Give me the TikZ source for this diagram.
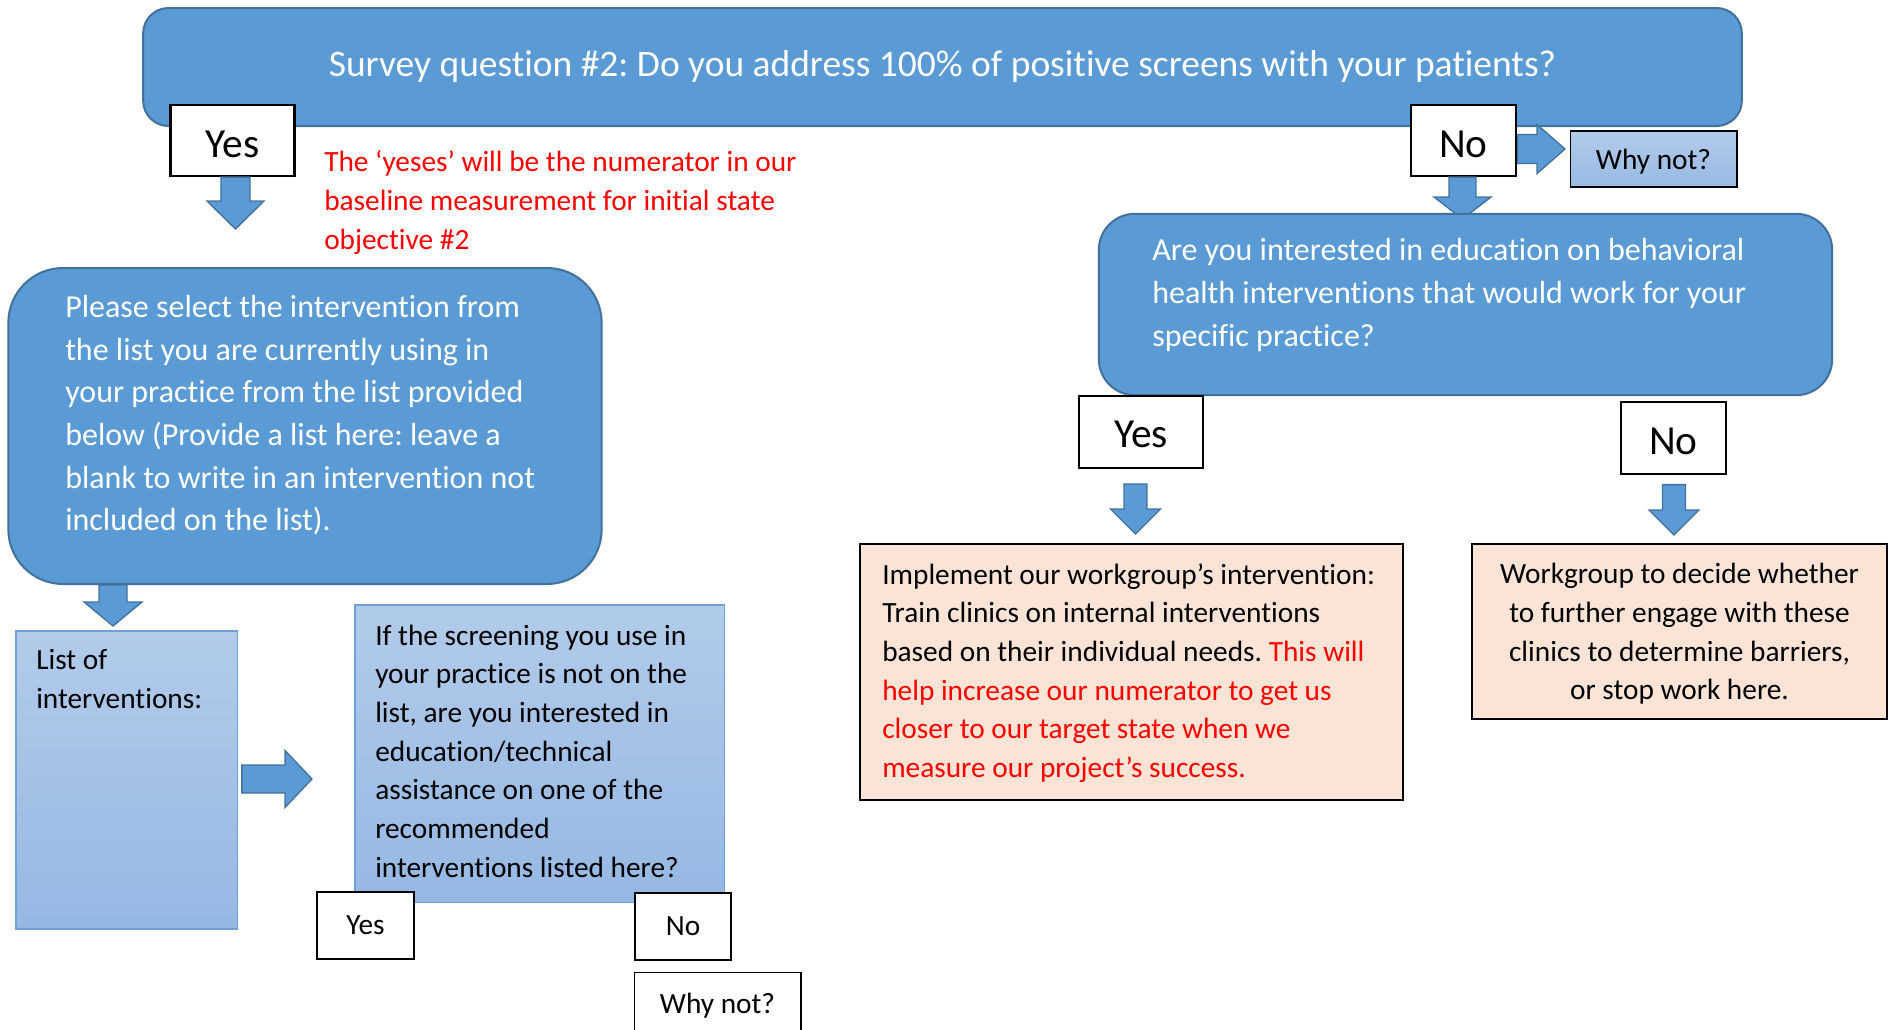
\documentclass[tikz,border=0pt]{standalone}
\usepackage{fontspec}
\setmainfont{Carlito}[Ligatures=NoCommon]
\usetikzlibrary{calc}
\frenchspacing

\definecolor{boxblue}{HTML}{5B9BD5}
\definecolor{boxedge}{HTML}{41719C}
\definecolor{paletop}{HTML}{B2CBEA}
\definecolor{palebot}{HTML}{95B8E3}
\definecolor{paleedge}{HTML}{6FA0DC}
\definecolor{peach}{HTML}{FBE4D5}
\definecolor{notered}{HTML}{FF0000}

\tikzset{
  bluebox/.style={draw=boxedge, fill=boxblue, line width=1.5pt},
  palebox/.style={draw=paleedge, top color=paletop, bottom color=palebot, line width=1pt},
  answer/.style={draw=black, fill=white, line width=1.9pt, inner sep=0pt},
  peachbox/.style={draw=black, fill=peach, line width=1.9pt},
  blockarrow/.style={draw=boxedge, fill=boxblue, line width=1pt},
  bodytext/.style={inner sep=0pt, align=left, font=\fontsize{22}{29}\selectfont},
  bigtext/.style={inner sep=0pt, align=left, text=white, font=\fontsize{24}{32}\selectfont},
}

% block arrows: start node, end point, shaft half width, head half width, head length
\newcommand{\blockdown}[5]{%
  \draw[blockarrow] let \p1=(#1), \p2=(#2) in
    (\x2-#3,\y1) -- (\x2-#3,\y2+#5) -- (\x2-#4,\y2+#5) -- (\x2,\y2)
    -- (\x2+#4,\y2+#5) -- (\x2+#3,\y2+#5) -- (\x2+#3,\y1) -- cycle;}
\newcommand{\blockright}[5]{%
  \draw[blockarrow] let \p1=(#1), \p2=(#2) in
    (\x1,\y2+#3) -- (\x2-#5,\y2+#3) -- (\x2-#5,\y2+#4) -- (\x2,\y2)
    -- (\x2-#5,\y2-#4) -- (\x2-#5,\y2-#3) -- (\x1,\y2-#3) -- cycle;}

\begin{document}
\begin{tikzpicture}[x=0.75pt, y=-0.75pt]
  \useasboundingbox (0,0) rectangle (1889,1029);

  % survey question
  \node[bluebox, rounded corners=19pt, minimum width=1199pt, minimum height=88.5pt,
        text=white, font=\fontsize{28.1}{32}\selectfont] (survey) at (942.5,67) {Survey question \#2: Do you address 100\% of positive screens with your patients?};
  \node[answer, minimum width=93pt, minimum height=53pt, text height=25.4pt, font=\fontsize{31}{36}\selectfont] (yes) at (232.5,140.5) {Yes};
  \node[answer, minimum width=79pt, minimum height=53pt, text height=25.4pt, font=\fontsize{31}{36}\selectfont] (no) at (1463.5,140.5) {No};
  \node[draw=black, line width=1pt, top color=paletop, bottom color=palebot!90!paletop, text height=19pt,
        minimum width=125pt, minimum height=42pt, font=\fontsize{22}{26}\selectfont] (whynot) at (1653.5,159) {Why not?};

  \node[bodytext, text=notered, anchor=north west] (note) at (324,150.5)
    {The ‘yeses’ will be the numerator in our\\baseline measurement for initial state\\objective \#2};

  \coordinate (yesend) at (235.5,229);
  \coordinate (noend) at (1462.5,219);
  \coordinate (whyend) at (1565,149);
  \blockdown{yes.south}{yesend}{10.9pt}{21.4pt}{21pt}
  \blockright{no.east}{whyend}{10.9pt}{18.4pt}{21pt}

  % left branch
  \node[bluebox, rounded corners=41pt, minimum width=445pt, minimum height=237pt] (select) at (305,426) {};
  \node[bigtext, anchor=north west] (selecttext) at (65,295)
    {Please select the intervention from\\the list you are currently using in\\your practice from the list provided\\below (Provide a list here: leave a\\blank to write in an intervention not\\included on the list).};
  \coordinate (selectend) at (113,626);
  \blockdown{select.south}{selectend}{10.5pt}{21.75pt}{18pt}

  \node[palebox, minimum width=166pt, minimum height=223.5pt] (list) at (126.5,780) {};
  \node[bodytext, anchor=north west] (listtext) at (36,649.5) {List of\\interventions:};

  \node[palebox, minimum width=277pt, minimum height=223pt] (screen) at (539.5,753.5) {};
  \node[bodytext, anchor=north west] (screentext) at (375,624.5)
    {If the screening you use in\\your practice is not on the\\list, are you interested in\\education/technical\\assistance on one of the\\recommended\\interventions listed here?};
  \coordinate (listend) at (312,779);
  \blockright{[xshift=3pt]list.east}{listend}{10.5pt}{21.4pt}{20.25pt}

  \node[answer, minimum width=73pt, minimum height=50pt, font=\fontsize{22}{26}\selectfont] (screenyes) at (365.5,925.5) {Yes};
  \node[answer, minimum width=72pt, minimum height=50pt, font=\fontsize{22}{26}\selectfont] (screenno) at (683,926.5) {No};
  \node[draw=black, fill=white, line width=1pt, minimum width=125pt, minimum height=50pt,
        font=\fontsize{22}{26}\selectfont] (screenwhy) at (717.5,1005.5) {Why not?};

  % right branch
  \blockdown{no.south}{noend}{10.1pt}{21.4pt}{16.5pt}
  \node[bluebox, rounded corners=27pt, minimum width=550pt, minimum height=136pt] (educate) at (1465.5,304.5) {};
  \node[bigtext, anchor=north west] (educatetext) at (1152,238.2)
    {Are you interested in education on behavioral\\health interventions that would work for your\\specific practice?};

  \node[answer, minimum width=93pt, minimum height=54pt, text height=23.6pt, font=\fontsize{31}{36}\selectfont] (eduyes) at (1141,432) {Yes};
  \node[answer, minimum width=79pt, minimum height=54pt, text height=25.4pt, font=\fontsize{31}{36}\selectfont] (eduno) at (1673.5,438) {No};
  \coordinate (eduyesend) at (1135.5,534);
  \coordinate (edunoend) at (1674,535);
  \blockdown{[yshift=-11pt]eduyes.south}{eduyesend}{8.6pt}{18.75pt}{18.75pt}
  \blockdown{[yshift=-7pt]eduno.south}{edunoend}{8.6pt}{18.75pt}{18.75pt}

  \node[peachbox, minimum width=407pt, minimum height=192pt] (implement) at (1131.5,672) {};
  \node[bodytext, anchor=north west] (implementtext) at (882,563.2)
    {Implement our workgroup’s intervention:\\Train clinics on internal interventions\\based on their individual needs. \textcolor{notered}{This will}\\\textcolor{notered}{help increase our numerator to get us}\\\textcolor{notered}{closer to our target state when we}\\\textcolor{notered}{measure our project’s success.}};

  \node[peachbox, minimum width=311pt, minimum height=131pt] (decide) at (1679.5,631.5) {};
  \node[bodytext, align=center] (decidetext) at (1679.5,634)
    {Workgroup to decide whether\\to further engage with these\\clinics to determine barriers,\\or stop work here.};
\end{tikzpicture}
\end{document}
